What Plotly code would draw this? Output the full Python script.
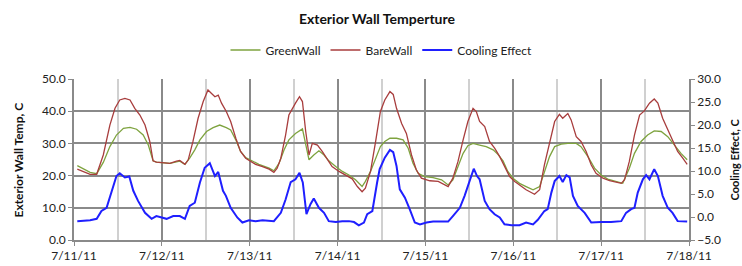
import pandas as pd
import plotly.graph_objects as go

# hours since 7/11/11 00:00 and readings
green_hours = [0.9, 4.4, 6.2, 8.0, 9.8, 11.6, 13.5, 15.3, 17.1, 18.9, 20.3, 21.6, 22.5, 26.2, 28.9, 30.3, 31.6, 33.0, 34.4, 36.2, 38.0, 39.8, 41.6,
               42.8, 44.2, 45.5, 46.9, 48.3, 50.5, 53.3, 54.6, 56.0, 57.4, 58.7, 60.5, 62.4, 63.3, 64.2, 65.5, 66.9, 68.3, 69.6, 71.5, 73.3, 75.1, 76.9, 78.7, 79.6, 81.0, 82.4, 83.7,
               84.9, 86.3, 88.1, 89.9, 91.3, 92.6, 94.0, 95.8, 98.1, 100.4, 102.2, 103.5, 104.9, 106.3, 107.6, 109.0, 110.8, 112.6, 114.5, 115.8, 117.2, 118.5, 119.9, 121.7, 123.5, 125.4,
               127.2, 128.5, 129.9, 131.3, 133.1, 134.9, 137.2, 138.5, 140.4, 142.2, 144.0, 145.8, 148.1, 149.9, 151.7, 153.1, 154.9, 156.7, 158.5, 160.4, 162.2, 164.0, 165.8, 167.5]
green_wall = [23.1, 21.0, 20.6, 24.1, 29.0, 32.6, 34.7, 35.0, 34.4, 32.6, 29.5, 24.6, 24.2, 23.8, 24.5, 23.5, 25.4, 28.0, 31.1, 33.7, 34.9, 35.7, 34.9,
              34.2, 31.1, 27.5, 25.6, 24.8, 23.5, 22.3, 21.5, 23.8, 28.0, 31.1, 33.1, 34.5, 29.5, 24.9, 26.4, 27.7, 26.4, 24.6, 22.8, 21.3, 20.2, 18.7, 16.6, 18.2, 21.3, 25.4, 29.0,
              30.6, 31.6, 31.6, 31.1, 28.5, 23.8, 20.7, 19.7, 19.4, 18.7, 17.1, 18.7, 22.8, 26.9, 29.3, 30.0, 29.5, 29.0, 28.0, 26.6, 24.6, 21.3, 19.2, 17.6, 16.6, 15.6,
              16.6, 21.3, 25.9, 29.0, 29.8, 30.0, 30.0, 29.0, 25.9, 22.3, 20.2, 18.9, 18.2, 17.6, 22.3, 26.9, 30.6, 32.6, 33.9, 33.7, 32.1, 29.5, 26.9, 24.9]

bare_hours = [0.9, 4.4, 6.2, 8.0, 9.8, 11.2, 12.5, 13.9, 15.3, 16.6, 18.0, 19.4, 20.7, 21.6, 22.5, 24.1, 26.2, 28.0, 28.9, 30.3, 31.2, 32.5, 33.9, 35.3, 36.6, 37.5, 38.5, 39.4, 40.3, 41.6,
              42.8, 44.2, 45.5, 46.9, 48.3, 49.6, 51.5, 53.3, 54.6, 55.5, 56.5, 57.8, 58.7, 59.6, 60.5, 61.6, 62.4, 63.3, 64.2, 65.1, 66.5, 67.8, 69.2, 70.5, 72.4, 74.2, 76.0, 77.4, 78.7, 79.6, 81.0, 82.4, 83.7,
              84.9, 86.3, 87.2, 88.1, 89.5, 90.8, 92.2, 93.5, 94.9, 97.2, 99.5, 101.3, 102.2, 103.5, 104.9, 106.3, 107.6, 109.0, 109.9, 110.8, 112.2, 113.5, 114.9, 116.3, 117.6, 119.0, 120.4, 121.7, 123.5, 125.8,
              127.2, 128.5, 129.9, 131.3, 132.6, 133.5, 134.9, 135.8, 137.2, 138.5, 139.9, 141.3, 142.6, 144.5, 146.3, 148.1, 149.5, 150.4, 151.7, 153.1, 154.5, 155.8, 157.2, 158.5, 159.5, 160.8, 162.2, 163.5, 164.9, 166.3, 167.5]
bare_wall = [22.0, 20.4, 20.4, 26.4, 35.7, 40.9, 43.5, 44.0, 43.5, 40.9, 38.8, 35.7, 30.6, 24.6, 24.2, 24.0, 23.8, 24.5, 24.7, 23.5, 24.9, 30.6, 37.8, 43.0, 46.6, 45.6, 44.5, 45.0, 42.5, 39.9,
             36.8, 31.6, 27.5, 25.4, 24.4, 23.5, 22.8, 22.0, 21.0, 22.3, 25.4, 32.6, 38.8, 40.9, 42.5, 44.5, 43.0, 33.7, 26.4, 30.0, 29.5, 27.5, 24.9, 22.8, 21.3, 20.2, 19.0, 16.6, 15.0, 16.1, 21.3, 30.6, 39.9,
             43.5, 46.1, 45.2, 40.9, 36.2, 33.1, 26.4, 21.8, 19.2, 18.4, 18.2, 17.1, 16.6, 19.2, 24.4, 31.1, 36.8, 40.9, 39.9, 36.8, 35.2, 30.6, 28.5, 25.9, 22.8, 19.7, 18.2, 17.1, 15.6, 14.2,
             15.6, 23.3, 30.6, 36.8, 39.0, 37.8, 39.3, 37.3, 32.1, 30.6, 27.5, 23.3, 20.7, 19.2, 18.4, 17.9, 17.6, 18.7, 24.4, 32.6, 38.8, 40.1, 42.5, 43.8, 42.5, 37.8, 34.2, 31.1, 27.5, 25.4, 23.5]

cool_hours = [0.9, 4.4, 6.2, 7.5, 8.9, 10.3, 11.6, 12.5, 13.9, 15.1, 16.2, 17.5, 19.4, 21.2, 22.5, 25.3, 27.1, 28.9, 30.3, 31.6, 33.0, 34.4, 35.7, 37.1, 38.5, 39.4, 40.7, 41.5,
              42.8, 44.6, 46.0, 47.8, 49.6, 51.5, 54.6, 56.5, 57.8, 59.2, 60.5, 61.6, 62.5, 63.5, 64.6, 65.5, 66.9, 68.3, 69.6, 71.5, 73.3, 75.1, 76.5, 77.8, 79.2, 80.1, 81.5, 82.8,
              83.5, 84.9, 86.3, 87.2, 88.1, 89.0, 90.4, 91.7, 93.1, 94.5, 96.3, 98.1, 100.4, 102.2, 103.5, 105.4, 106.7, 108.1, 109.2, 110.1, 110.8, 112.2, 113.5, 114.9, 116.3, 117.6, 119.5, 121.7, 123.5, 125.4, 126.7,
              128.5, 129.4, 130.4, 131.3, 132.6, 133.5, 134.5, 135.4, 136.3, 137.6, 139.5, 141.3, 144.0, 146.7, 149.5, 150.8, 152.2, 153.1, 154.0, 155.4, 156.3, 157.2, 158.5, 159.5, 160.8, 162.2, 163.5, 164.9, 167.5]
cooling_effect = [-0.9, -0.7, -0.4, 1.3, 2.0, 5.7, 8.9, 9.5, 8.6, 8.8, 5.7, 3.5, 0.9, -0.4, 0.2, -0.4, 0.2, 0.2, -0.4, 2.4, 3.1, 7.5, 10.7, 11.7, 8.9, 9.8, 5.7, 4.6,
                  2.0, -0.1, -1.2, -0.7, -0.9, -0.7, -0.9, 0.9, 3.8, 7.6, 8.2, 9.6, 7.5, 0.6, 2.8, 4.0, 2.0, 0.9, -0.9, -1.1, -0.9, -0.9, -1.1, -1.8, -1.2, 0.6, 1.3, 7.5,
                  10.4, 12.9, 14.6, 14.1, 11.1, 6.0, 4.2, 1.7, -1.2, -1.6, -1.2, -1.0, -1.0, -1.0, 0.2, 2.0, 4.6, 8.2, 10.5, 8.9, 8.2, 3.5, 1.7, 0.6, -0.1, -1.6, -1.8, -1.8, -1.2, -1.6, -0.6,
                  1.3, 1.7, 5.3, 7.8, 8.9, 7.6, 9.1, 8.6, 4.6, 2.4, 0.9, -1.2, -1.1, -1.1, -0.9, 0.9, 1.7, 2.0, 5.3, 8.2, 9.1, 8.2, 10.4, 8.9, 4.6, 2.0, 0.9, -0.9, -1.0]

base = pd.Timestamp("2011-07-11")
def to_time(hours):
    return [base + pd.Timedelta(hours=h) for h in hours]

FONT = "Lato, 'Open Sans', sans-serif"
fig = go.Figure()
fig.add_trace(go.Scatter(x=to_time(green_hours), y=green_wall, name="GreenWall", mode="lines",
                         line=dict(color="#7ea33f", width=1.3)))
fig.add_trace(go.Scatter(x=to_time(bare_hours), y=bare_wall, name="BareWall", mode="lines",
                         line=dict(color="#a83d3d", width=1.3)))
fig.add_trace(go.Scatter(x=to_time(cool_hours), y=cooling_effect, name="Cooling Effect", mode="lines",
                         yaxis="y2", line=dict(color="#1f1fff", width=2)))

fig.update_layout(
    width=742, height=266,
    margin=dict(l=74, r=53, t=79, b=26, autoexpand=False),
    paper_bgcolor="white", plot_bgcolor="white",
    font=dict(family=FONT, size=12, color="#222"),
    title=dict(text="<b>Exterior Wall Temperture</b>", x=0.508, xanchor="center",
               y=1 - 19 / 266, yanchor="middle", font=dict(size=14, color="#111")),
    showlegend=True,
    legend=dict(orientation="h", x=0.5, xanchor="center", y=1.18, yanchor="middle",
                font=dict(size=12, color="#222"), bgcolor="rgba(0,0,0,0)",
                itemwidth=30, tracegroupgap=0),
    xaxis=dict(type="date", range=[base, base + pd.Timedelta(days=7)],
               dtick=86400000, tick0=base, tickformat="%-m/%-d/%y",
               showgrid=True, gridcolor="#8a8a8a", gridwidth=1.6,
               ticks="outside", ticklen=4, tickcolor="#8a8a8a",
               showline=True, linecolor="#8a8a8a", linewidth=1.6,
               tickfont=dict(size=12, color="#222"),
               minor=dict(dtick=43200000, tick0=base, showgrid=True, gridcolor="#d0d0d0", gridwidth=2,
                          ticks=""),
               zeroline=False),
    yaxis=dict(range=[0, 50], dtick=10, tickformat=".1f",
               showgrid=True, gridcolor="#8a8a8a", gridwidth=1.6,
               ticks="outside", ticklen=4, tickcolor="#8a8a8a",
               showline=True, linecolor="#8a8a8a", linewidth=1.6,
               tickfont=dict(size=12, color="#222"), zeroline=False),
    yaxis2=dict(range=[-5, 30], dtick=5, tickformat=".1f", overlaying="y", side="right",
                showgrid=False, ticks="outside", ticklen=4, tickcolor="#8a8a8a",
                showline=True, linecolor="#8a8a8a", linewidth=1.6,
                tickfont=dict(size=12, color="#222"), zeroline=False),
)

fig.add_annotation(text="<b>Exterior Wall Temp, C</b>", xref="paper", yref="paper",
                   x=(18 - 74) / 615, y=0.5, textangle=-90, showarrow=False,
                   xanchor="center", yanchor="middle", font=dict(size=12, color="#111"))
fig.add_annotation(text="<b>Cooling Effect, C</b>", xref="paper", yref="paper",
                   x=(734 - 74) / 615, y=0.5, textangle=-90, showarrow=False,
                   xanchor="center", yanchor="middle", font=dict(size=11, color="#111"))

fig.write_html("out.html", config={"displayModeBar": False},
               post_script="document.body.style.margin='0';")
